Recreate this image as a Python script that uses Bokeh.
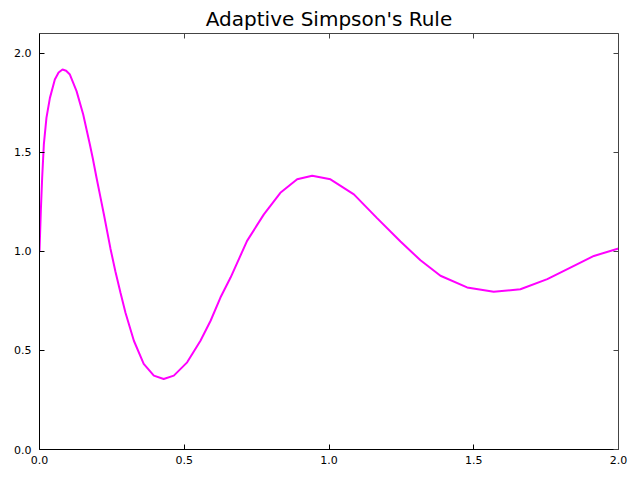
from bokeh.plotting import figure
from bokeh.models import LinearAxis, FixedTicker, Range1d, NumeralTickFormatter
from bokeh.embed import file_html
from bokeh.resources import INLINE

# values
x_vals = [0.0, 0.0046, 0.0092, 0.015, 0.024, 0.036, 0.053, 0.066, 0.0795, 0.092, 0.105,
          0.128, 0.151, 0.174, 0.184, 0.197, 0.211, 0.222, 0.245, 0.262, 0.280, 0.297,
          0.326, 0.360, 0.395, 0.429, 0.464, 0.510, 0.556, 0.591, 0.625, 0.660, 0.717,
          0.775, 0.832, 0.890, 0.942, 1.005, 1.086, 1.166, 1.247, 1.316, 1.385, 1.477,
          1.569, 1.661, 1.754, 1.846, 1.915, 2.0]
y_vals = [1.00, 1.204, 1.372, 1.540, 1.674, 1.775, 1.868, 1.903, 1.918, 1.912, 1.893,
          1.809, 1.691, 1.540, 1.470, 1.372, 1.270, 1.190, 1.015, 0.900, 0.790, 0.690,
          0.549, 0.432, 0.373, 0.356, 0.373, 0.440, 0.549, 0.650, 0.767, 0.868, 1.053,
          1.187, 1.296, 1.364, 1.382, 1.364, 1.288, 1.168, 1.050, 0.955, 0.877, 0.818,
          0.796, 0.809, 0.860, 0.927, 0.977, 1.015]
x_ticks = [0.0, 0.5, 1.0, 1.5, 2.0]
y_ticks = [0.0, 0.5, 1.0, 1.5, 2.0]
title_text = "Adaptive Simpson's Rule"

p = figure(width=630, height=480, output_backend="svg", toolbar_location=None,
           x_range=Range1d(0, 2), y_range=Range1d(0, 2.1),
           min_border_left=39, min_border_right=12, min_border_top=33, min_border_bottom=31,
           title=title_text)
p.title.align = "center"
p.title.vertical_align = "top"
p.title.text_font = "DejaVu Sans"
p.title.text_font_size = "20px"
p.title.text_font_style = "normal"
p.title.text_color = "black"
p.title.standoff = 2
p.outline_line_color = None
p.xgrid.grid_line_color = None
p.ygrid.grid_line_color = None

def style(ax, labels=True, color="black"):
    ax.major_tick_in = 5
    ax.major_tick_out = 0
    ax.minor_tick_line_color = None
    ax.axis_line_color = color
    ax.major_tick_line_color = color
    ax.major_label_text_font = "DejaVu Sans"
    ax.major_label_text_font_size = "11px"
    ax.major_label_text_color = "black"
    ax.formatter = NumeralTickFormatter(format="0.0")
    if not labels:
        ax.major_label_text_font_size = "0px"
        ax.major_label_text_color = None

p.xaxis.ticker = FixedTicker(ticks=x_ticks)
p.yaxis.ticker = FixedTicker(ticks=y_ticks)
style(p.xaxis[0])
style(p.yaxis[0])
p.xaxis.major_label_standoff = 6
p.yaxis.major_label_standoff = 8

top = LinearAxis(ticker=FixedTicker(ticks=x_ticks))
style(top, labels=False, color="#444444")
top.major_label_standoff = 0
p.add_layout(top, "above")
right = LinearAxis(ticker=FixedTicker(ticks=y_ticks))
style(right, labels=False, color="#444444")
right.major_label_standoff = 0
p.add_layout(right, "right")

p.line(x_vals, y_vals, line_color="#ff00ff", line_width=2)

open("out.html", "w").write(file_html(p, INLINE))
